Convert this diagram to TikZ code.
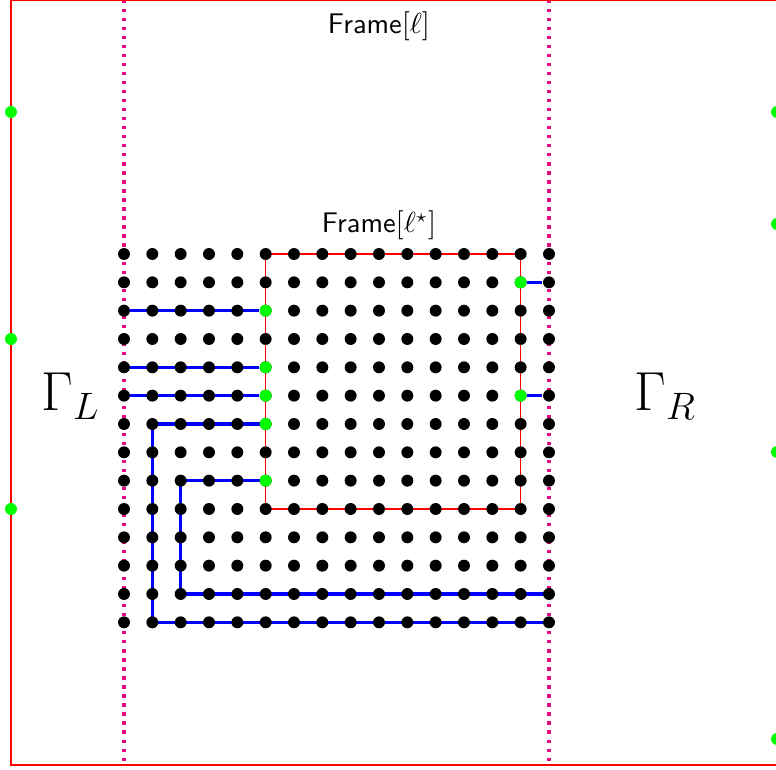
\documentclass[tikz,border=0pt]{standalone}
\usetikzlibrary{backgrounds}
\definecolor{mag}{RGB}{230,10,130}
\begin{document}
\begin{tikzpicture}[x=0.377pt,y=-0.377pt,
  dot/.style={circle,fill=black,inner sep=0pt,minimum size=4.5pt},
  gdot/.style={circle,fill=green,inner sep=0pt,minimum size=4.5pt},
  bpath/.style={blue,line width=1.2pt},
  framel/.style={red,line width=0.4pt},
  sepline/.style={color=mag,line width=1.2pt,dash pattern=on 1.2pt off 2.2pt},
  lbl/.style={inner sep=0pt,font=\fontsize{10.7}{13}\selectfont\sffamily},
  gam/.style={inner sep=0pt,font=\fontsize{21}{25}\selectfont}]
\useasboundingbox (0,0) rectangle (776,770);
\clip (0,0) rectangle (776,770);
% outer frame
\coordinate (oTL) at (11,0);
\coordinate (oBR) at (800,765);
\draw[framel] (oTL) rectangle (oBR);
% separators
\coordinate (s1t) at (124,0); \coordinate (s1b) at (124,765);
\coordinate (s2t) at (549,0); \coordinate (s2b) at (549,765);
% grid
\foreach \i in {0,...,15}
  \foreach \j in {0,...,13}
    \node[dot] (g-\i-\j) at ({124+28.333*\i},{254+28.333*\j}) {};
% green boundary dots
\foreach \i/\j in {5/2,5/4,5/5,5/6,5/8,14/1,14/5}
  \node[gdot] (gr-\i-\j) at (g-\i-\j) {};
% outer green dots
\node[gdot] (l1) at (11,112) {};
\node[gdot] (l2) at (11,339) {};
\node[gdot] (l3) at (11,509) {};
\node[gdot] (r1) at (777,112) {};
\node[gdot] (r2) at (777,224) {};
\node[gdot] (r3) at (777,452) {};
\node[gdot] (r4) at (777,739) {};
% labels
\node[lbl,anchor=base] (f1) at (379,34) {Frame$[\ell]$};
\node[lbl,anchor=base] (f2) at (379,233) {Frame$[\ell^\star]$};
\node[gam,anchor=base west] (gl) at (41,411) {$\Gamma_L$};
\node[gam,anchor=base west] (gr) at (634,411) {$\Gamma_R$};
\begin{pgfonlayer}{background}
  \draw[sepline] (s1t) -- (s1b);
  \draw[sepline] (s2t) -- (s2b);
  \draw[framel] (g-5-0.center) -- (g-14-0.center) -- (g-14-9.center) -- (g-5-9.center) -- cycle;
  \draw[bpath] (g-0-2) -- (g-5-2);
  \draw[bpath] (g-0-4) -- (g-5-4);
  \draw[bpath] (g-0-5) -- (g-5-5);
  \draw[bpath] (g-5-6.center) -- (g-1-6.center) -- (g-1-13.center) -- (g-15-13.center);
  \draw[bpath] (g-5-8.center) -- (g-2-8.center) -- (g-2-12.center) -- (g-15-12.center);
  \draw[bpath] (g-14-1) -- (g-15-1);
  \draw[bpath] (g-14-5) -- (g-15-5);
\end{pgfonlayer}
\end{tikzpicture}
\end{document}
